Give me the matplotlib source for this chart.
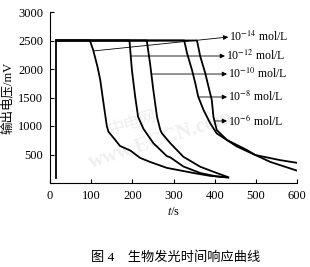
import matplotlib
matplotlib.use('Agg')
import matplotlib.pyplot as plt

plt.rcParams['font.family'] = ['Liberation Serif', 'Noto Sans CJK SC']
plt.rcParams['mathtext.fontset'] = 'stix'

# response curves (t in s, output in mV)
t_rise = [15, 15]
v_rise = [80, 2500]

t_c14 = [15, 97, 105, 115, 122, 130, 138, 142, 158, 170, 195, 219, 243, 284, 349, 389, 433]
v_c14 = [2500, 2500, 2330, 2050, 1810, 1400, 1000, 900, 760, 650, 570, 440, 370, 265, 175, 125, 100]

t_c12 = [15, 193, 199, 207, 214, 227, 251, 284, 292, 324, 365, 405, 433]
v_c12 = [2500, 2500, 1980, 1510, 1160, 950, 700, 470, 450, 290, 175, 115, 95]

t_c10 = [15, 235, 243, 251, 260, 268, 272, 292, 300, 324, 365, 405, 430]
v_c10 = [2500, 2500, 2100, 1630, 1160, 930, 870, 700, 640, 460, 285, 175, 110]

t_c8 = [15, 326, 333, 345, 353, 360, 373, 389, 405, 454, 499, 560, 608]
v_c8 = [2500, 2500, 2275, 1980, 1750, 1515, 1280, 1050, 870, 640, 490, 400, 345]

t_c6 = [15, 357, 365, 377, 385, 393, 397, 405, 430, 478, 499, 535, 608]
v_c6 = [2500, 2500, 2220, 1930, 1690, 1456, 1160, 930, 754, 580, 491, 370, 198]

curves_t = [t_c14, t_c12, t_c10, t_c8, t_c6]
curves_v = [v_c14, v_c12, v_c10, v_c8, v_c6]

labels = [r'10$^{-14}$ mol/L', r'10$^{-12}$ mol/L', r'10$^{-10}$ mol/L',
          r'10$^{-8}$ mol/L', r'10$^{-6}$ mol/L']
# where each arrow leaves its curve, and where its head points
arrow_from = [(105, 2316), (195, 2228), (248, 1912), (360, 1509), (401, 1088)]
arrow_to = [(433, 2561), (425, 2228), (430, 1912), (430, 1509), (430, 1088)]

fig = plt.figure(figsize=(3.1, 2.67), dpi=100)
ax = fig.add_axes([50 / 310, 84 / 267, 247 / 310, 171 / 267])

ax.plot(t_rise, v_rise, color='black', lw=1.3)
for t, v in zip(curves_t, curves_v):
    ax.plot(t, v, color='black', lw=1.3)

for lab, p0, p1 in zip(labels, arrow_from, arrow_to):
    ax.annotate('', xy=p1, xytext=p0,
                arrowprops=dict(arrowstyle='-|>', lw=0.6, color='black',
                                mutation_scale=7, shrinkA=0, shrinkB=0))
    ax.text(p1[0] + 3, p1[1], lab, fontsize=8.5, va='center', ha='left')

ax.set_xlim(0, 600)
ax.set_ylim(0, 3000)
ax.set_xticks(range(0, 601, 100))
ax.set_yticks(range(0, 3001, 500))
ax.set_yticklabels([''] + [str(v) for v in range(500, 3001, 500)])
ax.spines['top'].set_visible(False)
ax.spines['right'].set_visible(False)
ax.tick_params(direction='in', length=3, width=0.8, labelsize=9, pad=5)
ax.set_xlabel(r'$t$/s', fontsize=9, labelpad=3)
ax.set_ylabel('输出电压/mV', fontsize=9, labelpad=3)

# faint watermark
ax.text(200, 1050, '中电网', color='#efefef', fontsize=12, rotation=18,
        ha='center', va='center', zorder=0)
ax.text(270, 750, 'www.ECCN.com', color='#efefef', fontsize=15, rotation=18,
        ha='center', va='center', fontweight='bold', zorder=0)

fig.text(176 / 310, 1 - 258 / 267, '图 4    生物发光时间响应曲线', fontsize=9.5,
         ha='center', va='center')

fig.savefig('out.png', dpi=100)
